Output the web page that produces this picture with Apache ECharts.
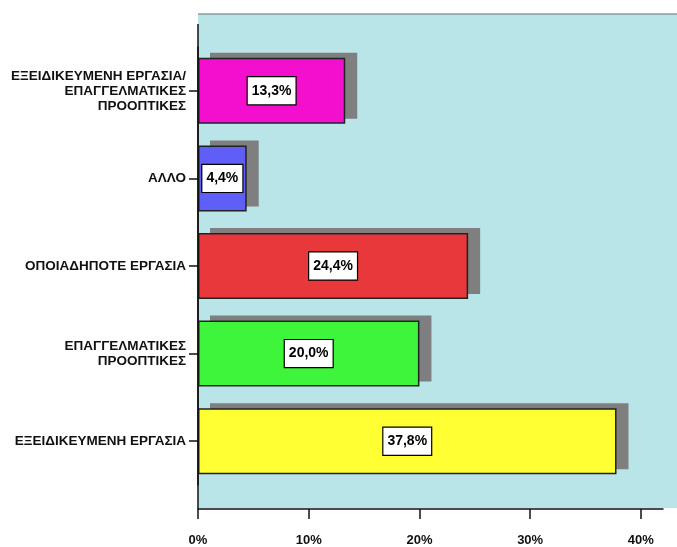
<!DOCTYPE html>
<html>
<head>
<meta charset="utf-8">
<script src="https://cdn.jsdelivr.net/npm/echarts@6/dist/echarts.min.js"></script>
<style>html,body{margin:0;padding:0;background:#fff;}#c{width:677px;height:547px;}</style>
</head>
<body>
<div id="c"></div>
<script>
const categories = [
  'ΕΞΕΙΔΙΚΕΥΜΕΝΗ ΕΡΓΑΣΙΑ/\nΕΠΑΓΓΕΛΜΑΤΙΚΕΣ\nΠΡΟΟΠΤΙΚΕΣ',
  'ΑΛΛΟ',
  'ΟΠΟΙΑΔΗΠΟΤΕ ΕΡΓΑΣΙΑ',
  'ΕΠΑΓΓΕΛΜΑΤΙΚΕΣ\nΠΡΟΟΠΤΙΚΕΣ',
  'ΕΞΕΙΔΙΚΕΥΜΕΝΗ ΕΡΓΑΣΙΑ'
];
const values = [13.3, 4.4, 24.4, 20.0, 37.8];
const barColors = ['#f40fcf', '#5f5ff7', '#e8383c', '#3ff53c', '#ffff33'];
const xTicks = [0, 10, 20, 30, 40];

const chart = echarts.init(document.getElementById('c'), null, {renderer: 'canvas'});
const font = "'Liberation Sans', Arial, sans-serif";
const BAR_W = 66;
chart.setOption({
  animation: false,
  graphic: [
    {type: 'rect', z: -10, shape: {x: 198, y: 14, width: 480, height: 494},
     style: {fill: '#b9e5e8'}},
    {type: 'line', z: -9, shape: {x1: 198, y1: 14, x2: 677, y2: 14},
     style: {stroke: '#8a9a9c', lineWidth: 1.5}},
    {type: 'line', z: 50, shape: {x1: 198, y1: 24, x2: 198, y2: 509},
     style: {stroke: '#111', lineWidth: 1.5}}
  ],
  grid: {left: 198, right: 14, top: 47, bottom: 62},
  xAxis: {
    type: 'value', min: 0, max: 42.0, interval: 10, offset: 24,
    splitLine: {show: false},
    axisLine: {show: true, lineStyle: {color: '#111', width: 1.5}},
    axisTick: {show: true, length: 10, lineStyle: {color: '#111', width: 1.5}, customValues: xTicks},
    axisLabel: {customValues: xTicks, formatter: v => v + '%', margin: 25,
      fontFamily: font, fontWeight: 'bold', fontSize: 13, color: '#111'}
  },
  yAxis: {
    type: 'category', data: categories, inverse: true,
    axisLine: {show: true, lineStyle: {color: '#111', width: 1.5}},
    axisTick: {show: true, alignWithLabel: true, length: 9, lineStyle: {color: '#111', width: 1.5}},
    axisLabel: {margin: 12, fontFamily: font, fontWeight: 'bold', fontSize: 13.5,
      lineHeight: 15, color: '#111', align: 'right'}
  },
  series: [{
    type: 'custom',
    z: 1,
    silent: true,
    data: values.map((v, i) => [v, i]),
    encode: {x: 0, y: 1},
    renderItem: (params, api) => {
      const p0 = api.coord([0, api.value(1)]);
      const p1 = api.coord([api.value(0), api.value(1)]);
      return {type: 'rect',
        shape: {x: p0[0] + 12, y: p0[1] - BAR_W / 2 - 5, width: p1[0] - p0[0], height: BAR_W},
        style: {fill: '#7f7f7f'}};
    }
  }, {
    type: 'bar',
    z: 2,
    barWidth: BAR_W,
    data: values.map((v, i) => ({value: v, itemStyle: {color: barColors[i]}})),
    itemStyle: {borderColor: '#222', borderWidth: 1.5},
    emphasis: {disabled: true},
    label: {
      show: true, position: 'inside',
      formatter: p => p.value.toFixed(1).replace('.', ',') + '%',
      fontFamily: font, fontWeight: 'bold', fontSize: 14, color: '#000',
      backgroundColor: '#fff', borderColor: '#000', borderWidth: 1.2,
      padding: [7, 4, 6, 4]
    }
  }]
});
</script>
</body>
</html>
